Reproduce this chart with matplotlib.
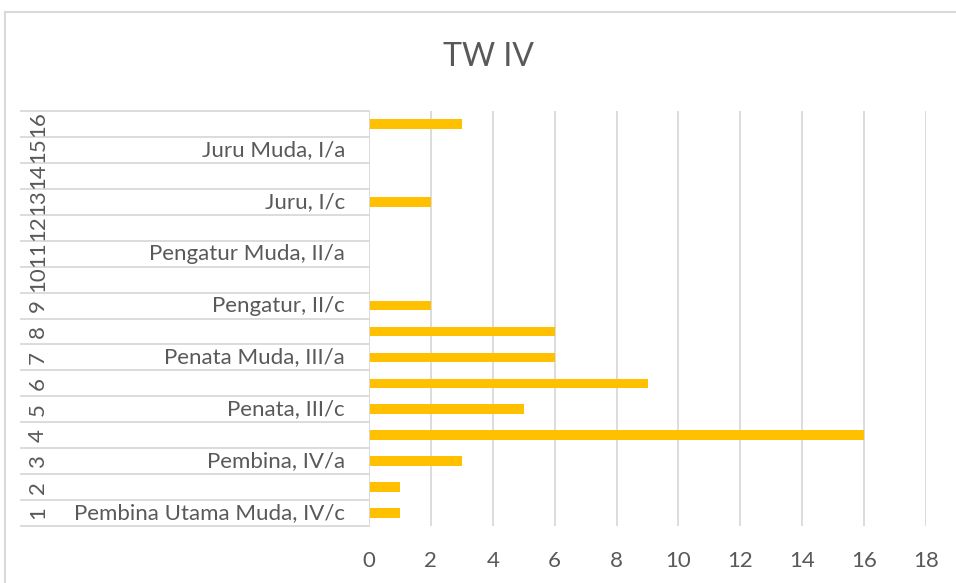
import matplotlib
matplotlib.use("Agg")
import matplotlib.pyplot as plt
from matplotlib.transforms import blended_transform_factory

plt.rcParams['font.family'] = ['Lato', 'DejaVu Sans']

title = "TW IV"
categories = list(range(1, 17))
values = [1, 1, 3, 16, 5, 9, 6, 6, 2, 0, 0, 0, 2, 0, 0, 3]
group_labels = {
    1: "Pembina Utama Muda, IV/c",
    3: "Pembina, IV/a",
    5: "Penata, III/c",
    7: "Penata Muda, III/a",
    9: "Pengatur, II/c",
    11: "Pengatur Muda, II/a",
    13: "Juru, I/c",
    15: "Juru Muda, I/a",
}
xticks = [0, 2, 4, 6, 8, 10, 12, 14, 16, 18]

W, H = 956, 583
fig = plt.figure(figsize=(W / 100, H / 100), dpi=100)
fig.patch.set_facecolor("white")

def fx(px):
    return px / W

def fy(py):
    return 1 - py / H

text_col = "#595959"
grid_col = "#D9D9D9"

ax = fig.add_axes([fx(369), fy(526), fx(926) - fx(369), fy(111) - fy(526)])
ax.barh(categories, values, height=0.37, color="#FFC000", zorder=3)
ax.set_xlim(0, 18)
ax.set_ylim(0.5, 16.5)
ax.set_xticks(xticks)
ax.set_xticklabels([str(t) for t in xticks], fontsize=16, color=text_col)
ax.tick_params(axis='x', length=0, pad=18)
ax.set_yticks([])
for s in ax.spines.values():
    s.set_visible(False)
for t in xticks[1:]:
    ax.axvline(t, color=grid_col, lw=1.3, zorder=1)
ax.axvline(0, color=grid_col, lw=1.3, zorder=4)

tr = blended_transform_factory(fig.transFigure, ax.transData)
for k in range(0, 17):
    ax.plot([fx(21), fx(369)], [k + 0.5, k + 0.5], color=grid_col, lw=1.3,
            transform=tr, clip_on=False, zorder=2)

for c in categories:
    ax.text(fx(38), c, str(c), rotation=90, ha='center', va='center',
            fontsize=16, color=text_col, transform=tr)
    if c in group_labels:
        ax.text(fx(345), c, group_labels[c], ha='right', va='center',
                fontsize=16, color=text_col, transform=tr)

fig.text(fx(488), fy(57), title, ha='center', va='center', fontsize=23,
         color=text_col)

# chart border
fig.add_artist(plt.Line2D([fx(5), fx(5)], [fy(12), 0], color=grid_col, lw=1.5))
fig.add_artist(plt.Line2D([fx(5), 1], [fy(12), fy(12)], color=grid_col, lw=1.5))

fig.savefig("out.png", dpi=100)
